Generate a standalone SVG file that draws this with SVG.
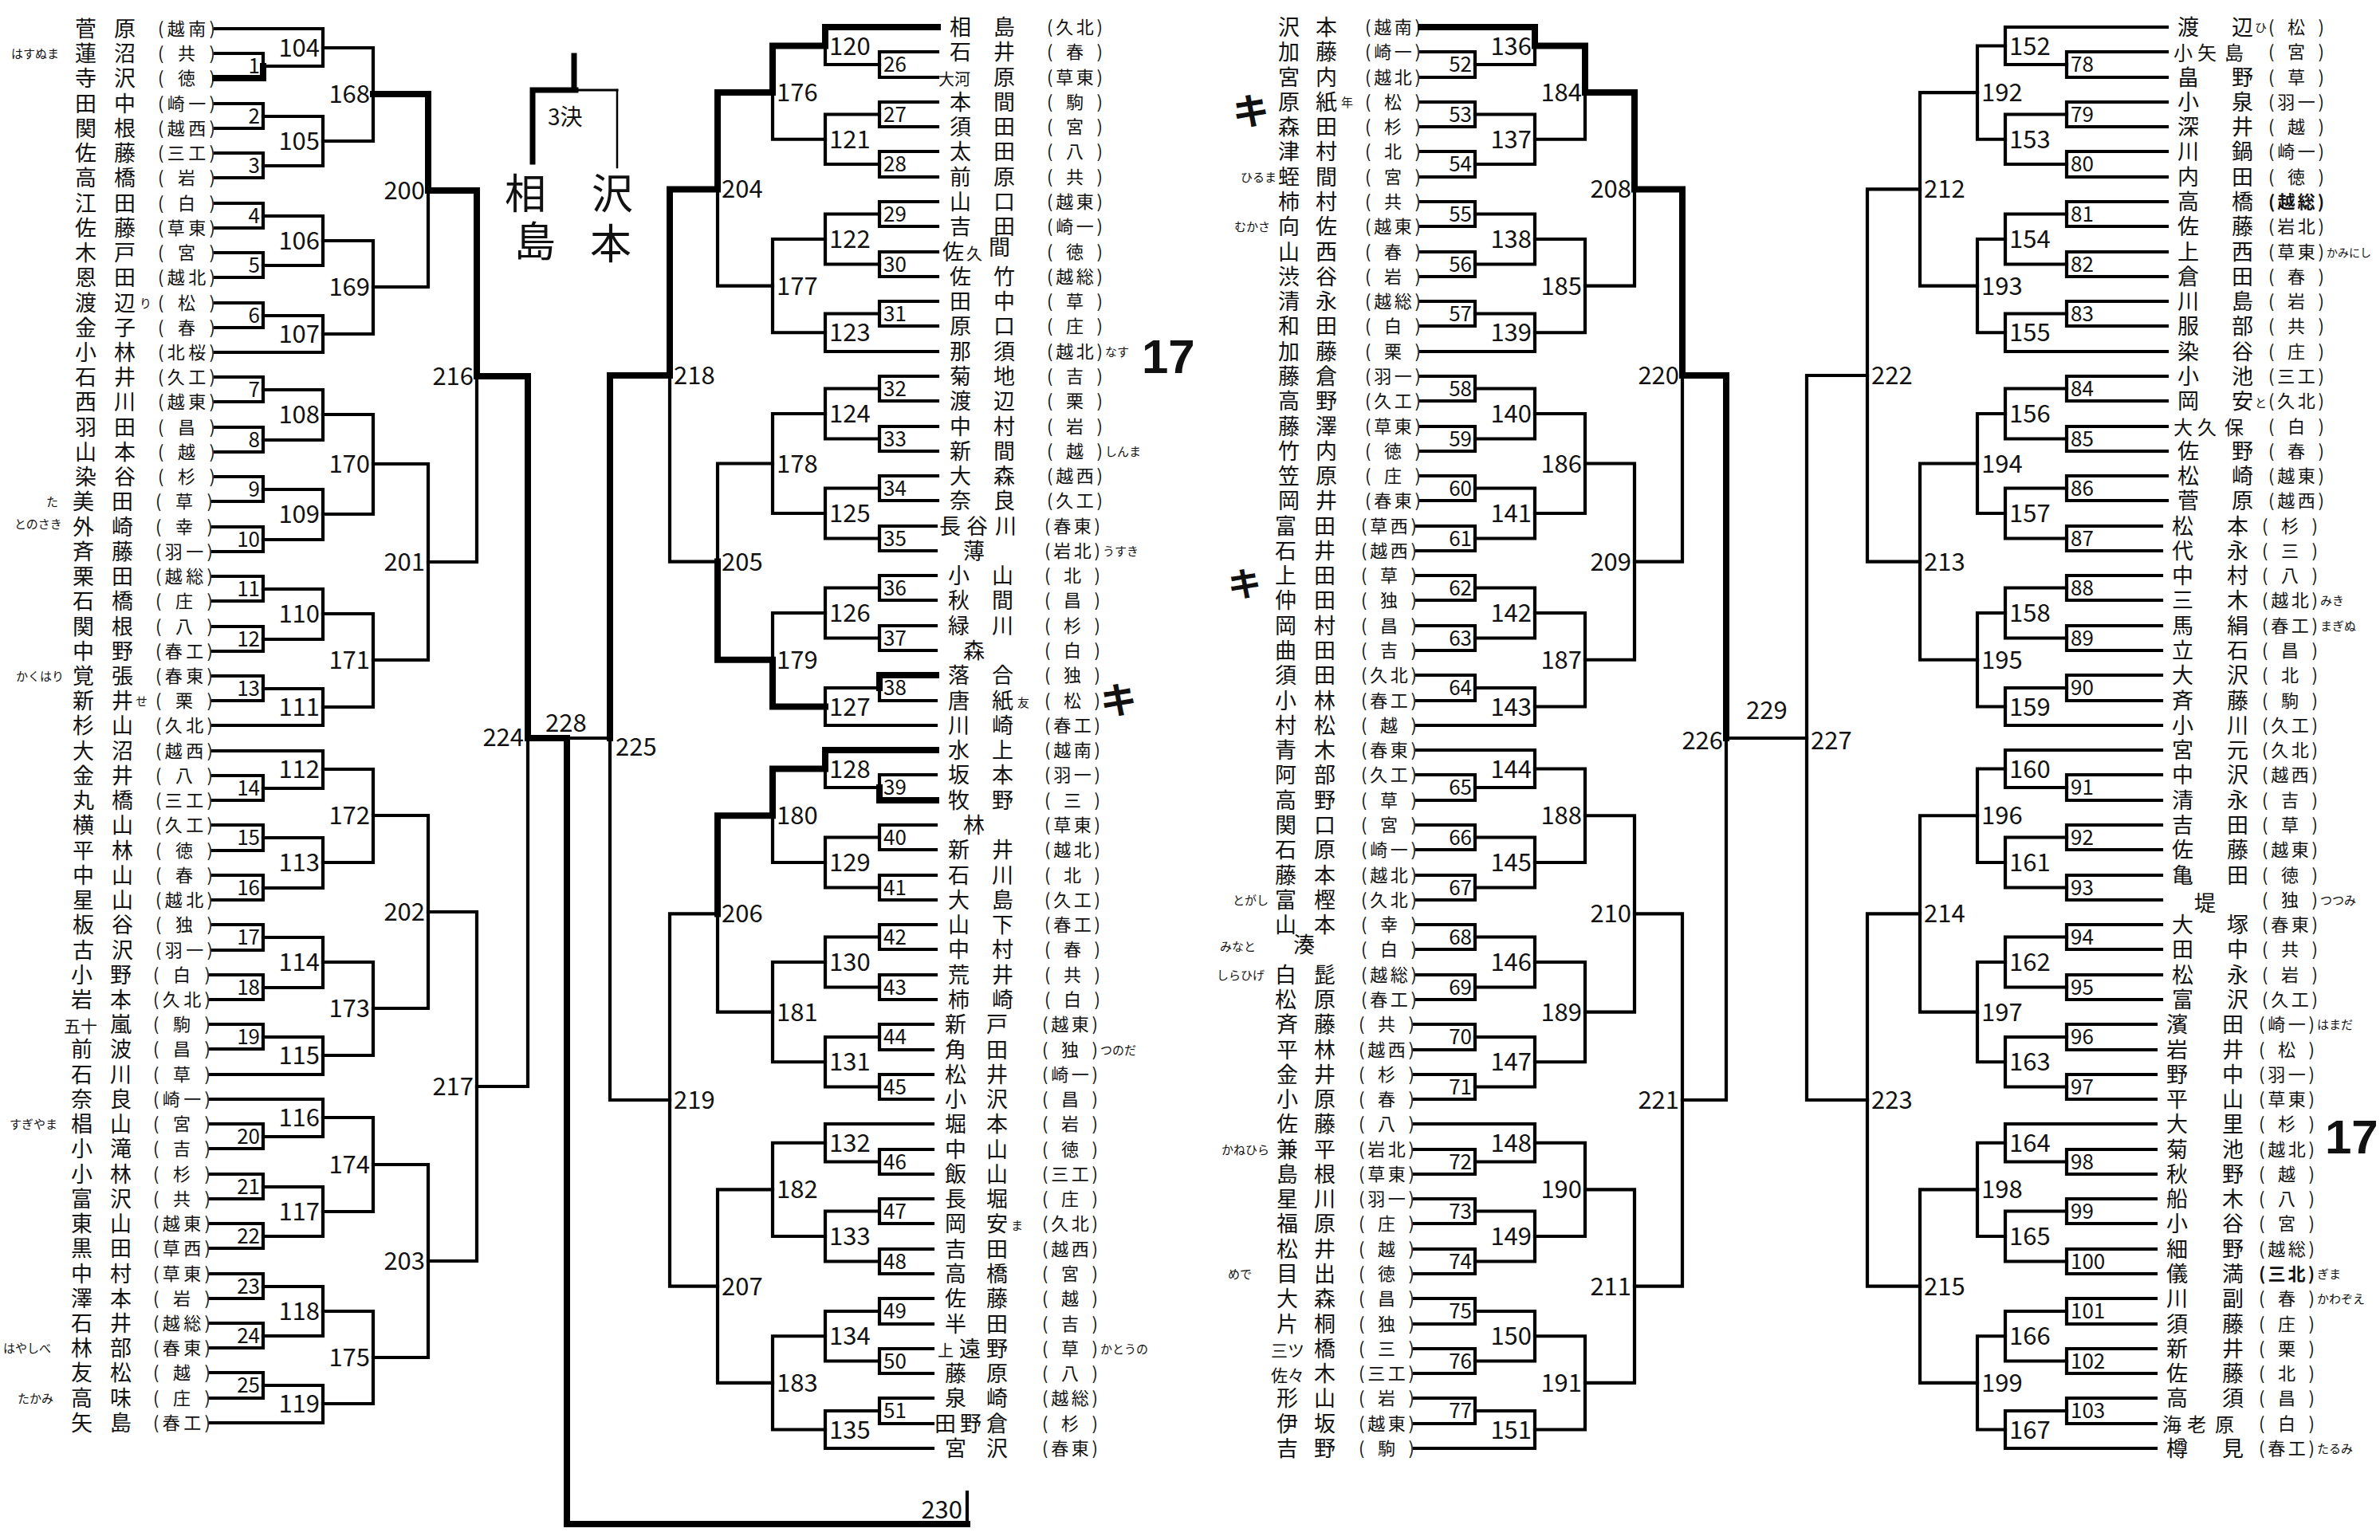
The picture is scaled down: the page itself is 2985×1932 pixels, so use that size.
<svg xmlns="http://www.w3.org/2000/svg" width="2985" height="1932" viewBox="0 0 2985 1932">
<style>
text{font-family:"Noto Sans CJK JP","Noto Sans CJK SC",sans-serif;fill:#111}
.n{font-size:27px}
.s{font-size:22px;text-anchor:middle}
.f{font-size:15px}
.m{font-family:"Liberation Sans",Arial,sans-serif;font-size:31px}
.m1{font-family:"Liberation Sans",Arial,sans-serif;font-size:26px}
.e{text-anchor:end}
.l path{fill:none;stroke:#000;stroke-width:4.2;stroke-linecap:square}
.w path{stroke-width:8}
.b{font-family:"Liberation Sans",Arial,sans-serif;font-weight:bold}
.k{font-weight:bold}
</style>
<rect width="2985" height="1932" fill="#fff"/>
<g id="connectors" class="l">
<path d="M270 67H330V98H270M270 130H330V161H270M270 192H330V223H270M270 255H330V286H270M270 317H330V348H270M270 380H330V411H270M270 473H330V504H270M270 536H330V567H270M270 598H330V629H267M267 661H330V692H267M267 723H330V754H267M267 786H330V817H267M267 848H330V879H267M267 973H330V1004H267M267 1035H330V1067H267M267 1098H330V1129H267M267 1160H330V1192H267M264 1223H330V1254H264M264 1285H330V1316H264M264 1410H330V1441H264M264 1473H330V1504H264M264 1535H330V1566H264M264 1598H330V1629H264M264 1660H330V1691H264M264 1722H330V1754H264"/>
<path d="M270 36H405V83H330M330 146H405V208H330M330 271H405V333H330M330 396H405V442H270M330 489H405V552H330M330 614H405V677H330M330 739H405V802H330M330 864H405V910H267M267 942H405V989H330M330 1051H405V1114H330M330 1176H405V1239H330M330 1301H405V1348H264M264 1379H405V1426H330M330 1489H405V1551H330M330 1614H405V1676H330M330 1738H405V1785H264"/>
<path d="M405 60H468V177H405M405 302H468V419H405M405 520H468V645H405M405 770H468V887H405M405 965H468V1082H405M405 1207H468V1324H405M405 1402H468V1520H405M405 1645H468V1761H405"/>
<path d="M468 118H537V360H468M468 582H537V828H468M468 1023H537V1265H468M468 1461H537V1703H468"/>
<path d="M537 239H598V705H537M537 1144H598V1582H537"/>
<path d="M598 472H662V1363H598"/>
<path d="M662 926H765M1213 1872V1914"/>
<path d="M1176 65H1103V97H1176M1176 128H1103V159H1176M1176 190H1103V222H1176M1176 253H1103V284H1176M1176 316H1103V347H1176M1176 378H1103V409H1176M1176 472H1103V503H1176M1176 535H1103V566H1176M1176 597H1103V628H1176M1174 660H1103V691H1174M1174 722H1103V753H1174M1174 785H1103V816H1174M1174 847H1103V879H1174M1174 972H1103V1004H1174M1174 1035H1103V1066H1174M1174 1098H1103V1129H1174M1174 1160H1103V1191H1174M1174 1223H1103V1254H1174M1170 1285H1103V1317H1170M1170 1348H1103V1379H1170M1170 1442H1103V1473H1170M1170 1504H1103V1535H1170M1170 1567H1103V1598H1170M1170 1629H1103V1661H1170M1170 1692H1103V1723H1170M1170 1754H1103V1786H1170"/>
<path d="M1176 34H1035V81H1103M1103 143.5H1035V206H1103M1103 268.5H1035V331.5H1103M1103 393.5H1035V441H1176M1103 487.5H1035V550.5H1103M1103 612.5H1035V675.5H1103M1103 737.5H1035V800.5H1103M1103 863H1035V910H1174M1174 941H1035V988H1103M1103 1050.5H1035V1113.5H1103M1103 1175.5H1035V1238.5H1103M1103 1301H1035V1363.5H1103M1170 1410H1035V1457.5H1103M1103 1519.5H1035V1582.5H1103M1103 1645H1035V1707.5H1103M1103 1770H1035V1817H1170"/>
<path d="M1035 57.5H969V174.75H1035M1035 300H969V417.25H1035M1035 519H969V644H1035M1035 769H969V886.5H1035M1035 964.5H969V1082H1035M1035 1207H969V1332.25H1035M1035 1433.75H969V1551H1035M1035 1676.25H969V1793.5H1035"/>
<path d="M969 116.1H900V358.6H969M969 581.5H900V827.75H969M969 1023.25H900V1269.6H969M969 1492.4H900V1734.9H969"/>
<path d="M900 237.4H840V704.6H900M900 1146.4H840V1613.7H900"/>
<path d="M840 471H765V1380H840"/>
<path d="M1782 65H1850V97H1782M1782 128H1850V159H1782M1782 190H1850V222H1782M1782 253H1850V284H1782M1782 316H1850V347H1782M1782 378H1850V409H1782M1782 472H1850V503H1782M1782 535H1850V566H1782M1782 597H1850V628H1782M1777 660H1850V691H1777M1777 722H1850V753H1777M1777 785H1850V816H1777M1777 847H1850V879H1777M1777 972H1850V1004H1777M1777 1035H1850V1066H1777M1777 1098H1850V1129H1777M1777 1160H1850V1191H1777M1777 1223H1850V1254H1777M1774 1285H1850V1317H1774M1774 1348H1850V1379H1774M1774 1442H1850V1473H1774M1774 1504H1850V1535H1774M1774 1567H1850V1598H1774M1774 1629H1850V1661H1774M1774 1692H1850V1723H1774M1774 1754H1850V1786H1774"/>
<path d="M1782 34H1925V81H1850M1850 143.5H1925V206H1850M1850 268.5H1925V331.5H1850M1850 393.5H1925V441H1782M1850 487.5H1925V550.5H1850M1850 612.5H1925V675.5H1850M1850 737.5H1925V800.5H1850M1850 863H1925V910H1777M1777 941H1925V988H1850M1850 1050.5H1925V1113.5H1850M1850 1175.5H1925V1238.5H1850M1850 1301H1925V1363.5H1850M1774 1410H1925V1457.5H1850M1850 1519.5H1925V1582.5H1850M1850 1645H1925V1707.5H1850M1850 1770H1925V1817H1774"/>
<path d="M1925 57.5H1988V174.75H1925M1925 300H1988V417.25H1925M1925 519H1988V644H1925M1925 769H1988V886.5H1925M1925 964.5H1988V1082H1925M1925 1207H1988V1332.25H1925M1925 1433.75H1988V1551H1925M1925 1676.25H1988V1793.5H1925"/>
<path d="M1988 116.1H2050V358.6H1988M1988 581.5H2050V827.75H1988M1988 1023.25H2050V1269.6H1988M1988 1492.4H2050V1734.9H1988"/>
<path d="M2050 237.4H2110V704.6H2050M2050 1146.4H2110V1613.7H2050"/>
<path d="M2110 471H2165V1380H2110"/>
<path d="M2165 926H2266"/>
<path d="M2718 65H2592V97H2718M2718 128H2592V159H2718M2718 190H2592V222H2718M2718 253H2592V284H2718M2718 316H2592V347H2718M2718 378H2592V409H2718M2718 472H2592V503H2718M2718 535H2592V566H2718M2718 597H2592V628H2718M2711 660H2592V691H2711M2711 722H2592V753H2711M2711 785H2592V816H2711M2711 847H2592V879H2711M2711 972H2592V1004H2711M2711 1035H2592V1066H2711M2711 1098H2592V1129H2711M2711 1160H2592V1191H2711M2711 1223H2592V1254H2711M2704 1285H2592V1317H2704M2704 1348H2592V1379H2704M2704 1442H2592V1473H2704M2704 1504H2592V1535H2704M2704 1567H2592V1598H2704M2704 1629H2592V1661H2704M2704 1692H2592V1723H2704M2704 1754H2592V1786H2704"/>
<path d="M2718 34H2515V81H2592M2592 143.5H2515V206H2592M2592 268.5H2515V331.5H2592M2592 393.5H2515V441H2718M2592 487.5H2515V550.5H2592M2592 612.5H2515V675.5H2592M2592 737.5H2515V800.5H2592M2592 863H2515V910H2711M2711 941H2515V988H2592M2592 1050.5H2515V1113.5H2592M2592 1175.5H2515V1238.5H2592M2592 1301H2515V1363.5H2592M2704 1410H2515V1457.5H2592M2592 1519.5H2515V1582.5H2592M2592 1645H2515V1707.5H2592M2592 1770H2515V1817H2704"/>
<path d="M2515 57.5H2480V174.75H2515M2515 300H2480V417.25H2515M2515 519H2480V644H2515M2515 769H2480V886.5H2515M2515 964.5H2480V1082H2515M2515 1207H2480V1332.25H2515M2515 1433.75H2480V1551H2515M2515 1676.25H2480V1793.5H2515"/>
<path d="M2480 116.1H2408V358.6H2480M2480 581.5H2408V827.75H2480M2480 1023.25H2408V1269.6H2480M2480 1492.4H2408V1734.9H2480"/>
<path d="M2408 237.4H2342V704.6H2408M2408 1146.4H2342V1613.7H2408"/>
<path d="M2342 471H2266V1380H2342"/>
<path d="M774 113V210" style="stroke-width:2.5"/>
</g>
<g id="winner-lines" class="l w">
<path d="M598 472H662V926M662 926H711V1912H1213M537 239H598V472M468 118H537V239M270 98H330V83"/>
<path d="M840 471H765V926M900 237.4H840V471M969 116.1H900V237.4M1035 57.5H969V116.1M1176 34H1035V57.5"/>
<path d="M1035 964.5H969V1023.25M969 1023.25H900V1146.4M1035 886.5H969V827.75M969 827.75H900V704.6M1174 941H1035V964.5M1174 847H1103V863M1174 1004H1103V988"/>
<path d="M2110 471H2165V926M2050 237.4H2110V471M1988 116.1H2050V237.4M1925 57.5H1988V116.1M1782 34H1925V57.5"/>
<path d="M720 70V113M668 113H722M668 113V203" style="stroke-width:7"/>
<path d="M722 113H774" style="stroke-width:3"/>
</g>
<g id="third-place">
<text x="687" y="157" style="font-size:28px">3決</text>
<text x="633" y="262" style="font-size:52px">相</text>
<text x="645" y="322" style="font-size:52px">島</text>
<text x="742" y="262" style="font-size:52px">沢</text>
<text x="740" y="325" style="font-size:52px">本</text>
</g>
<g id="left-players">
<g id="L01" transform="translate(0 36)"><text class="n" x="94 143" y="10">菅原</text><text class="s" x="234" y="8" textLength="72" lengthAdjust="spacing">(越南)</text></g>
<g id="L02" transform="translate(0 67)"><text class="n" x="94 143" y="10">蓮沼</text><text class="s" x="234" y="8" textLength="72" lengthAdjust="spacing">(共)</text><text class="f" x="14" y="6">はすぬま</text></g>
<g id="L03" transform="translate(0 98)"><text class="n" x="94 143" y="10">寺沢</text><text class="s" x="234" y="8" textLength="72" lengthAdjust="spacing">(徳)</text></g>
<g id="L04" transform="translate(0 130)"><text class="n" x="94 143" y="10">田中</text><text class="s" x="234" y="8" textLength="72" lengthAdjust="spacing">(崎一)</text></g>
<g id="L05" transform="translate(0 161)"><text class="n" x="94 143" y="10">関根</text><text class="s" x="234" y="8" textLength="72" lengthAdjust="spacing">(越西)</text></g>
<g id="L06" transform="translate(0 192)"><text class="n" x="94 143" y="10">佐藤</text><text class="s" x="234" y="8" textLength="72" lengthAdjust="spacing">(三工)</text></g>
<g id="L07" transform="translate(0 223)"><text class="n" x="94 143" y="10">高橋</text><text class="s" x="234" y="8" textLength="72" lengthAdjust="spacing">(岩)</text></g>
<g id="L08" transform="translate(0 255)"><text class="n" x="94 143" y="10">江田</text><text class="s" x="234" y="8" textLength="72" lengthAdjust="spacing">(白)</text></g>
<g id="L09" transform="translate(0 286)"><text class="n" x="94 143" y="10">佐藤</text><text class="s" x="234" y="8" textLength="72" lengthAdjust="spacing">(草東)</text></g>
<g id="L10" transform="translate(0 317)"><text class="n" x="94 143" y="10">木戸</text><text class="s" x="234" y="8" textLength="72" lengthAdjust="spacing">(宮)</text></g>
<g id="L11" transform="translate(0 348)"><text class="n" x="94 143" y="10">恩田</text><text class="s" x="234" y="8" textLength="72" lengthAdjust="spacing">(越北)</text></g>
<g id="L12" transform="translate(0 380)"><text class="n" x="94 143" y="10">渡辺</text><text class="s" x="234" y="8" textLength="72" lengthAdjust="spacing">(松)</text><text class="f" x="175" y="6">り</text></g>
<g id="L13" transform="translate(0 411)"><text class="n" x="94 143" y="10">金子</text><text class="s" x="234" y="8" textLength="72" lengthAdjust="spacing">(春)</text></g>
<g id="L14" transform="translate(0 442)"><text class="n" x="94 143" y="10">小林</text><text class="s" x="234" y="8" textLength="72" lengthAdjust="spacing">(北桜)</text></g>
<g id="L15" transform="translate(0 473)"><text class="n" x="94 143" y="10">石井</text><text class="s" x="234" y="8" textLength="72" lengthAdjust="spacing">(久工)</text></g>
<g id="L16" transform="translate(0 504)"><text class="n" x="94 143" y="10">西川</text><text class="s" x="234" y="8" textLength="72" lengthAdjust="spacing">(越東)</text></g>
<g id="L17" transform="translate(0 536)"><text class="n" x="94 143" y="10">羽田</text><text class="s" x="234" y="8" textLength="72" lengthAdjust="spacing">(昌)</text></g>
<g id="L18" transform="translate(0 567)"><text class="n" x="94 143" y="10">山本</text><text class="s" x="234" y="8" textLength="72" lengthAdjust="spacing">(越)</text></g>
<g id="L19" transform="translate(0 598)"><text class="n" x="94 143" y="10">染谷</text><text class="s" x="234" y="8" textLength="72" lengthAdjust="spacing">(杉)</text></g>
<g id="L20" transform="translate(0 629)"><text class="n" x="91 140" y="10">美田</text><text class="s" x="231" y="8" textLength="72" lengthAdjust="spacing">(草)</text><text class="f" x="58" y="6">た</text></g>
<g id="L21" transform="translate(0 661)"><text class="n" x="91 140" y="10">外崎</text><text class="s" x="231" y="8" textLength="72" lengthAdjust="spacing">(幸)</text><text class="f" x="18" y="2">とのさき</text></g>
<g id="L22" transform="translate(0 692)"><text class="n" x="91 140" y="10">斉藤</text><text class="s" x="231" y="8" textLength="72" lengthAdjust="spacing">(羽一)</text></g>
<g id="L23" transform="translate(0 723)"><text class="n" x="91 140" y="10">栗田</text><text class="s" x="231" y="8" textLength="72" lengthAdjust="spacing">(越総)</text></g>
<g id="L24" transform="translate(0 754)"><text class="n" x="91 140" y="10">石橋</text><text class="s" x="231" y="8" textLength="72" lengthAdjust="spacing">(庄)</text></g>
<g id="L25" transform="translate(0 786)"><text class="n" x="91 140" y="10">関根</text><text class="s" x="231" y="8" textLength="72" lengthAdjust="spacing">(八)</text></g>
<g id="L26" transform="translate(0 817)"><text class="n" x="91 140" y="10">中野</text><text class="s" x="231" y="8" textLength="72" lengthAdjust="spacing">(春工)</text></g>
<g id="L27" transform="translate(0 848)"><text class="n" x="91 140" y="10">覚張</text><text class="s" x="231" y="8" textLength="72" lengthAdjust="spacing">(春東)</text><text class="f" x="20" y="6">かくはり</text></g>
<g id="L28" transform="translate(0 879)"><text class="n" x="91 140" y="10">新井</text><text class="s" x="231" y="8" textLength="72" lengthAdjust="spacing">(栗)</text><text class="f" x="170" y="6">せ</text></g>
<g id="L29" transform="translate(0 910)"><text class="n" x="91 140" y="10">杉山</text><text class="s" x="231" y="8" textLength="72" lengthAdjust="spacing">(久北)</text></g>
<g id="L30" transform="translate(0 942)"><text class="n" x="91 140" y="10">大沼</text><text class="s" x="231" y="8" textLength="72" lengthAdjust="spacing">(越西)</text></g>
<g id="L31" transform="translate(0 973)"><text class="n" x="91 140" y="10">金井</text><text class="s" x="231" y="8" textLength="72" lengthAdjust="spacing">(八)</text></g>
<g id="L32" transform="translate(0 1004)"><text class="n" x="91 140" y="10">丸橋</text><text class="s" x="231" y="8" textLength="72" lengthAdjust="spacing">(三工)</text></g>
<g id="L33" transform="translate(0 1035)"><text class="n" x="91 140" y="10">横山</text><text class="s" x="231" y="8" textLength="72" lengthAdjust="spacing">(久工)</text></g>
<g id="L34" transform="translate(0 1067)"><text class="n" x="91 140" y="10">平林</text><text class="s" x="231" y="8" textLength="72" lengthAdjust="spacing">(徳)</text></g>
<g id="L35" transform="translate(0 1098)"><text class="n" x="91 140" y="10">中山</text><text class="s" x="231" y="8" textLength="72" lengthAdjust="spacing">(春)</text></g>
<g id="L36" transform="translate(0 1129)"><text class="n" x="91 140" y="10">星山</text><text class="s" x="231" y="8" textLength="72" lengthAdjust="spacing">(越北)</text></g>
<g id="L37" transform="translate(0 1160)"><text class="n" x="91 140" y="10">板谷</text><text class="s" x="231" y="8" textLength="72" lengthAdjust="spacing">(独)</text></g>
<g id="L38" transform="translate(0 1192)"><text class="n" x="91 140" y="10">古沢</text><text class="s" x="231" y="8" textLength="72" lengthAdjust="spacing">(羽一)</text></g>
<g id="L39" transform="translate(0 1223)"><text class="n" x="89 138" y="10">小野</text><text class="s" x="228" y="8" textLength="72" lengthAdjust="spacing">(白)</text></g>
<g id="L40" transform="translate(0 1254)"><text class="n" x="89 138" y="10">岩本</text><text class="s" x="228" y="8" textLength="72" lengthAdjust="spacing">(久北)</text></g>
<g id="L41" transform="translate(0 1285)"><text class="n" y="10"><tspan x="80" style="font-size:21px">五十</tspan><tspan x="138">嵐</tspan></text><text class="s" x="228" y="8" textLength="72" lengthAdjust="spacing">(駒)</text></g>
<g id="L42" transform="translate(0 1316)"><text class="n" x="89 138" y="10">前波</text><text class="s" x="228" y="8" textLength="72" lengthAdjust="spacing">(昌)</text></g>
<g id="L43" transform="translate(0 1348)"><text class="n" x="89 138" y="10">石川</text><text class="s" x="228" y="8" textLength="72" lengthAdjust="spacing">(草)</text></g>
<g id="L44" transform="translate(0 1379)"><text class="n" x="89 138" y="10">奈良</text><text class="s" x="228" y="8" textLength="72" lengthAdjust="spacing">(崎一)</text></g>
<g id="L45" transform="translate(0 1410)"><text class="n" x="89 138" y="10">椙山</text><text class="s" x="228" y="8" textLength="72" lengthAdjust="spacing">(宮)</text><text class="f" x="12" y="6">すぎやま</text></g>
<g id="L46" transform="translate(0 1441)"><text class="n" x="89 138" y="10">小滝</text><text class="s" x="228" y="8" textLength="72" lengthAdjust="spacing">(吉)</text></g>
<g id="L47" transform="translate(0 1473)"><text class="n" x="89 138" y="10">小林</text><text class="s" x="228" y="8" textLength="72" lengthAdjust="spacing">(杉)</text></g>
<g id="L48" transform="translate(0 1504)"><text class="n" x="89 138" y="10">富沢</text><text class="s" x="228" y="8" textLength="72" lengthAdjust="spacing">(共)</text></g>
<g id="L49" transform="translate(0 1535)"><text class="n" x="89 138" y="10">東山</text><text class="s" x="228" y="8" textLength="72" lengthAdjust="spacing">(越東)</text></g>
<g id="L50" transform="translate(0 1566)"><text class="n" x="89 138" y="10">黒田</text><text class="s" x="228" y="8" textLength="72" lengthAdjust="spacing">(草西)</text></g>
<g id="L51" transform="translate(0 1598)"><text class="n" x="89 138" y="10">中村</text><text class="s" x="228" y="8" textLength="72" lengthAdjust="spacing">(草東)</text></g>
<g id="L52" transform="translate(0 1629)"><text class="n" x="89 138" y="10">澤本</text><text class="s" x="228" y="8" textLength="72" lengthAdjust="spacing">(岩)</text></g>
<g id="L53" transform="translate(0 1660)"><text class="n" x="89 138" y="10">石井</text><text class="s" x="228" y="8" textLength="72" lengthAdjust="spacing">(越総)</text></g>
<g id="L54" transform="translate(0 1691)"><text class="n" x="89 138" y="10">林部</text><text class="s" x="228" y="8" textLength="72" lengthAdjust="spacing">(春東)</text><text class="f" x="4" y="6">はやしべ</text></g>
<g id="L55" transform="translate(0 1722)"><text class="n" x="89 138" y="10">友松</text><text class="s" x="228" y="8" textLength="72" lengthAdjust="spacing">(越)</text></g>
<g id="L56" transform="translate(0 1754)"><text class="n" x="89 138" y="10">高味</text><text class="s" x="228" y="8" textLength="72" lengthAdjust="spacing">(庄)</text><text class="f" x="22" y="6">たかみ</text></g>
<g id="L57" transform="translate(0 1785)"><text class="n" x="89 138" y="10">矢島</text><text class="s" x="228" y="8" textLength="72" lengthAdjust="spacing">(春工)</text></g>
</g>
<g id="midleft-players">
<g id="G01" transform="translate(0 34)"><text class="n" x="1191 1246" y="10">相島</text><text class="s" x="1348" y="8" textLength="70" lengthAdjust="spacing">(久北)</text></g>
<g id="G02" transform="translate(0 65)"><text class="n" x="1191 1246" y="10">石井</text><text class="s" x="1348" y="8" textLength="70" lengthAdjust="spacing">(春)</text></g>
<g id="G03" transform="translate(0 97)"><text class="n" y="10"><tspan x="1177" style="font-size:20px">大河</tspan><tspan x="1246">原</tspan></text><text class="s" x="1348" y="8" textLength="70" lengthAdjust="spacing">(草東)</text></g>
<g id="G04" transform="translate(0 128)"><text class="n" x="1191 1246" y="10">本間</text><text class="s" x="1348" y="8" textLength="70" lengthAdjust="spacing">(駒)</text></g>
<g id="G05" transform="translate(0 159)"><text class="n" x="1191 1246" y="10">須田</text><text class="s" x="1348" y="8" textLength="70" lengthAdjust="spacing">(宮)</text></g>
<g id="G06" transform="translate(0 190)"><text class="n" x="1191 1246" y="10">太田</text><text class="s" x="1348" y="8" textLength="70" lengthAdjust="spacing">(八)</text></g>
<g id="G07" transform="translate(0 222)"><text class="n" x="1191 1246" y="10">前原</text><text class="s" x="1348" y="8" textLength="70" lengthAdjust="spacing">(共)</text></g>
<g id="G08" transform="translate(0 253)"><text class="n" x="1191 1246" y="10">山口</text><text class="s" x="1348" y="8" textLength="70" lengthAdjust="spacing">(越東)</text></g>
<g id="G09" transform="translate(0 284)"><text class="n" x="1191 1246" y="10">吉田</text><text class="s" x="1348" y="8" textLength="70" lengthAdjust="spacing">(崎一)</text></g>
<g id="G10" transform="translate(0 316)"><text class="n" y="10"><tspan x="1182">佐</tspan><tspan x="1212" style="font-size:20px">久</tspan><tspan x="1240" dy="-6">間</tspan></text><text class="s" x="1348" y="8" textLength="70" lengthAdjust="spacing">(徳)</text></g>
<g id="G11" transform="translate(0 347)"><text class="n" x="1191 1246" y="10">佐竹</text><text class="s" x="1348" y="8" textLength="70" lengthAdjust="spacing">(越総)</text></g>
<g id="G12" transform="translate(0 378)"><text class="n" x="1191 1246" y="10">田中</text><text class="s" x="1348" y="8" textLength="70" lengthAdjust="spacing">(草)</text></g>
<g id="G13" transform="translate(0 409)"><text class="n" x="1191 1246" y="10">原口</text><text class="s" x="1348" y="8" textLength="70" lengthAdjust="spacing">(庄)</text></g>
<g id="G14" transform="translate(0 441)"><text class="n" x="1191 1246" y="10">那須</text><text class="s" x="1348" y="8" textLength="70" lengthAdjust="spacing">(越北)</text><text class="f" x="1386" y="6">なす</text></g>
<g id="G15" transform="translate(0 472)"><text class="n" x="1191 1246" y="10">菊地</text><text class="s" x="1348" y="8" textLength="70" lengthAdjust="spacing">(吉)</text></g>
<g id="G16" transform="translate(0 503)"><text class="n" x="1191 1246" y="10">渡辺</text><text class="s" x="1348" y="8" textLength="70" lengthAdjust="spacing">(栗)</text></g>
<g id="G17" transform="translate(0 535)"><text class="n" x="1191 1246" y="10">中村</text><text class="s" x="1348" y="8" textLength="70" lengthAdjust="spacing">(岩)</text></g>
<g id="G18" transform="translate(0 566)"><text class="n" x="1191 1246" y="10">新間</text><text class="s" x="1348" y="8" textLength="70" lengthAdjust="spacing">(越)</text><text class="f" x="1386" y="6">しんま</text></g>
<g id="G19" transform="translate(0 597)"><text class="n" x="1191 1246" y="10">大森</text><text class="s" x="1348" y="8" textLength="70" lengthAdjust="spacing">(越西)</text></g>
<g id="G20" transform="translate(0 628)"><text class="n" x="1191 1246" y="10">奈良</text><text class="s" x="1348" y="8" textLength="70" lengthAdjust="spacing">(久工)</text></g>
<g id="G21" transform="translate(0 660)"><text class="n" x="1178 1212 1248" y="10">長谷川</text><text class="s" x="1345" y="8" textLength="70" lengthAdjust="spacing">(春東)</text></g>
<g id="G22" transform="translate(0 691)"><text class="n" x="1208" y="10">薄</text><text class="s" x="1345" y="8" textLength="70" lengthAdjust="spacing">(岩北)</text><text class="f" x="1383" y="6">うすき</text></g>
<g id="G23" transform="translate(0 722)"><text class="n" x="1189 1244" y="10">小山</text><text class="s" x="1345" y="8" textLength="70" lengthAdjust="spacing">(北)</text></g>
<g id="G24" transform="translate(0 753)"><text class="n" x="1189 1244" y="10">秋間</text><text class="s" x="1345" y="8" textLength="70" lengthAdjust="spacing">(昌)</text></g>
<g id="G25" transform="translate(0 785)"><text class="n" x="1189 1244" y="10">緑川</text><text class="s" x="1345" y="8" textLength="70" lengthAdjust="spacing">(杉)</text></g>
<g id="G26" transform="translate(0 816)"><text class="n" x="1208" y="10">森</text><text class="s" x="1345" y="8" textLength="70" lengthAdjust="spacing">(白)</text></g>
<g id="G27" transform="translate(0 847)"><text class="n" x="1189 1244" y="10">落合</text><text class="s" x="1345" y="8" textLength="70" lengthAdjust="spacing">(独)</text></g>
<g id="G28" transform="translate(0 879)"><text class="n" x="1189 1244" y="10">唐紙</text><text class="s" x="1345" y="8" textLength="70" lengthAdjust="spacing">(松)</text><text class="f" x="1276" y="8">友</text></g>
<g id="G29" transform="translate(0 910)"><text class="n" x="1189 1244" y="10">川崎</text><text class="s" x="1345" y="8" textLength="70" lengthAdjust="spacing">(春工)</text></g>
<g id="G30" transform="translate(0 941)"><text class="n" x="1189 1244" y="10">水上</text><text class="s" x="1345" y="8" textLength="70" lengthAdjust="spacing">(越南)</text></g>
<g id="G31" transform="translate(0 972)"><text class="n" x="1189 1244" y="10">坂本</text><text class="s" x="1345" y="8" textLength="70" lengthAdjust="spacing">(羽一)</text></g>
<g id="G32" transform="translate(0 1004)"><text class="n" x="1189 1244" y="10">牧野</text><text class="s" x="1345" y="8" textLength="70" lengthAdjust="spacing">(三)</text></g>
<g id="G33" transform="translate(0 1035)"><text class="n" x="1208" y="10">林</text><text class="s" x="1345" y="8" textLength="70" lengthAdjust="spacing">(草東)</text></g>
<g id="G34" transform="translate(0 1066)"><text class="n" x="1189 1244" y="10">新井</text><text class="s" x="1345" y="8" textLength="70" lengthAdjust="spacing">(越北)</text></g>
<g id="G35" transform="translate(0 1098)"><text class="n" x="1189 1244" y="10">石川</text><text class="s" x="1345" y="8" textLength="70" lengthAdjust="spacing">(北)</text></g>
<g id="G36" transform="translate(0 1129)"><text class="n" x="1189 1244" y="10">大島</text><text class="s" x="1345" y="8" textLength="70" lengthAdjust="spacing">(久工)</text></g>
<g id="G37" transform="translate(0 1160)"><text class="n" x="1189 1244" y="10">山下</text><text class="s" x="1345" y="8" textLength="70" lengthAdjust="spacing">(春工)</text></g>
<g id="G38" transform="translate(0 1191)"><text class="n" x="1189 1244" y="10">中村</text><text class="s" x="1345" y="8" textLength="70" lengthAdjust="spacing">(春)</text></g>
<g id="G39" transform="translate(0 1223)"><text class="n" x="1189 1244" y="10">荒井</text><text class="s" x="1345" y="8" textLength="70" lengthAdjust="spacing">(共)</text></g>
<g id="G40" transform="translate(0 1254)"><text class="n" x="1189 1244" y="10">柿崎</text><text class="s" x="1345" y="8" textLength="70" lengthAdjust="spacing">(白)</text></g>
<g id="G41" transform="translate(0 1285)"><text class="n" x="1185 1237" y="10">新戸</text><text class="s" x="1342" y="8" textLength="70" lengthAdjust="spacing">(越東)</text></g>
<g id="G42" transform="translate(0 1317)"><text class="n" x="1185 1237" y="10">角田</text><text class="s" x="1342" y="8" textLength="70" lengthAdjust="spacing">(独)</text><text class="f" x="1380" y="6">つのだ</text></g>
<g id="G43" transform="translate(0 1348)"><text class="n" x="1185 1237" y="10">松井</text><text class="s" x="1342" y="8" textLength="70" lengthAdjust="spacing">(崎一)</text></g>
<g id="G44" transform="translate(0 1379)"><text class="n" x="1185 1237" y="10">小沢</text><text class="s" x="1342" y="8" textLength="70" lengthAdjust="spacing">(昌)</text></g>
<g id="G45" transform="translate(0 1410)"><text class="n" x="1185 1237" y="10">堀本</text><text class="s" x="1342" y="8" textLength="70" lengthAdjust="spacing">(岩)</text></g>
<g id="G46" transform="translate(0 1442)"><text class="n" x="1185 1237" y="10">中山</text><text class="s" x="1342" y="8" textLength="70" lengthAdjust="spacing">(徳)</text></g>
<g id="G47" transform="translate(0 1473)"><text class="n" x="1185 1237" y="10">飯山</text><text class="s" x="1342" y="8" textLength="70" lengthAdjust="spacing">(三工)</text></g>
<g id="G48" transform="translate(0 1504)"><text class="n" x="1185 1237" y="10">長堀</text><text class="s" x="1342" y="8" textLength="70" lengthAdjust="spacing">(庄)</text></g>
<g id="G49" transform="translate(0 1535)"><text class="n" x="1185 1237" y="10">岡安</text><text class="s" x="1342" y="8" textLength="70" lengthAdjust="spacing">(久北)</text><text class="f" x="1268" y="8">ま</text></g>
<g id="G50" transform="translate(0 1567)"><text class="n" x="1185 1237" y="10">吉田</text><text class="s" x="1342" y="8" textLength="70" lengthAdjust="spacing">(越西)</text></g>
<g id="G51" transform="translate(0 1598)"><text class="n" x="1185 1237" y="10">高橋</text><text class="s" x="1342" y="8" textLength="70" lengthAdjust="spacing">(宮)</text></g>
<g id="G52" transform="translate(0 1629)"><text class="n" x="1185 1237" y="10">佐藤</text><text class="s" x="1342" y="8" textLength="70" lengthAdjust="spacing">(越)</text></g>
<g id="G53" transform="translate(0 1661)"><text class="n" x="1185 1237" y="10">半田</text><text class="s" x="1342" y="8" textLength="70" lengthAdjust="spacing">(吉)</text></g>
<g id="G54" transform="translate(0 1692)"><text class="n" y="10"><tspan x="1176" style="font-size:20px">上</tspan><tspan x="1203">遠</tspan><tspan x="1237">野</tspan></text><text class="s" x="1342" y="8" textLength="70" lengthAdjust="spacing">(草)</text><text class="f" x="1380" y="6">かとうの</text></g>
<g id="G55" transform="translate(0 1723)"><text class="n" x="1185 1237" y="10">藤原</text><text class="s" x="1342" y="8" textLength="70" lengthAdjust="spacing">(八)</text></g>
<g id="G56" transform="translate(0 1754)"><text class="n" x="1185 1237" y="10">泉崎</text><text class="s" x="1342" y="8" textLength="70" lengthAdjust="spacing">(越総)</text></g>
<g id="G57" transform="translate(0 1786)"><text class="n" x="1172 1204 1237" y="10">田野倉</text><text class="s" x="1342" y="8" textLength="70" lengthAdjust="spacing">(杉)</text></g>
<g id="G58" transform="translate(0 1817)"><text class="n" x="1185 1237" y="10">宮沢</text><text class="s" x="1342" y="8" textLength="70" lengthAdjust="spacing">(春東)</text></g>
</g>
<g id="midright-players">
<g id="H01" transform="translate(0 34)"><text class="n" x="1603 1650" y="10">沢本</text><text class="s" x="1747" y="8" textLength="70" lengthAdjust="spacing">(越南)</text></g>
<g id="H02" transform="translate(0 65)"><text class="n" x="1603 1650" y="10">加藤</text><text class="s" x="1747" y="8" textLength="70" lengthAdjust="spacing">(崎一)</text></g>
<g id="H03" transform="translate(0 97)"><text class="n" x="1603 1650" y="10">宮内</text><text class="s" x="1747" y="8" textLength="70" lengthAdjust="spacing">(越北)</text></g>
<g id="H04" transform="translate(0 128)"><text class="n" x="1603 1650" y="10">原紙</text><text class="s" x="1747" y="8" textLength="70" lengthAdjust="spacing">(松)</text><text class="f" x="1682" y="6">年</text></g>
<g id="H05" transform="translate(0 159)"><text class="n" x="1603 1650" y="10">森田</text><text class="s" x="1747" y="8" textLength="70" lengthAdjust="spacing">(杉)</text></g>
<g id="H06" transform="translate(0 190)"><text class="n" x="1603 1650" y="10">津村</text><text class="s" x="1747" y="8" textLength="70" lengthAdjust="spacing">(北)</text></g>
<g id="H07" transform="translate(0 222)"><text class="n" x="1603 1650" y="10">蛭間</text><text class="s" x="1747" y="8" textLength="70" lengthAdjust="spacing">(宮)</text><text class="f" x="1556" y="6">ひるま</text></g>
<g id="H08" transform="translate(0 253)"><text class="n" x="1603 1650" y="10">柿村</text><text class="s" x="1747" y="8" textLength="70" lengthAdjust="spacing">(共)</text></g>
<g id="H09" transform="translate(0 284)"><text class="n" x="1603 1650" y="10">向佐</text><text class="s" x="1747" y="8" textLength="70" lengthAdjust="spacing">(越東)</text><text class="f" x="1548" y="6">むかさ</text></g>
<g id="H10" transform="translate(0 316)"><text class="n" x="1603 1650" y="10">山西</text><text class="s" x="1747" y="8" textLength="70" lengthAdjust="spacing">(春)</text></g>
<g id="H11" transform="translate(0 347)"><text class="n" x="1603 1650" y="10">渋谷</text><text class="s" x="1747" y="8" textLength="70" lengthAdjust="spacing">(岩)</text></g>
<g id="H12" transform="translate(0 378)"><text class="n" x="1603 1650" y="10">清永</text><text class="s" x="1747" y="8" textLength="70" lengthAdjust="spacing">(越総)</text></g>
<g id="H13" transform="translate(0 409)"><text class="n" x="1603 1650" y="10">和田</text><text class="s" x="1747" y="8" textLength="70" lengthAdjust="spacing">(白)</text></g>
<g id="H14" transform="translate(0 441)"><text class="n" x="1603 1650" y="10">加藤</text><text class="s" x="1747" y="8" textLength="70" lengthAdjust="spacing">(栗)</text></g>
<g id="H15" transform="translate(0 472)"><text class="n" x="1603 1650" y="10">藤倉</text><text class="s" x="1747" y="8" textLength="70" lengthAdjust="spacing">(羽一)</text></g>
<g id="H16" transform="translate(0 503)"><text class="n" x="1603 1650" y="10">高野</text><text class="s" x="1747" y="8" textLength="70" lengthAdjust="spacing">(久工)</text></g>
<g id="H17" transform="translate(0 535)"><text class="n" x="1603 1650" y="10">藤澤</text><text class="s" x="1747" y="8" textLength="70" lengthAdjust="spacing">(草東)</text></g>
<g id="H18" transform="translate(0 566)"><text class="n" x="1603 1650" y="10">竹内</text><text class="s" x="1747" y="8" textLength="70" lengthAdjust="spacing">(徳)</text></g>
<g id="H19" transform="translate(0 597)"><text class="n" x="1603 1650" y="10">笠原</text><text class="s" x="1747" y="8" textLength="70" lengthAdjust="spacing">(庄)</text></g>
<g id="H20" transform="translate(0 628)"><text class="n" x="1603 1650" y="10">岡井</text><text class="s" x="1747" y="8" textLength="70" lengthAdjust="spacing">(春東)</text></g>
<g id="H21" transform="translate(0 660)"><text class="n" x="1599 1648" y="10">富田</text><text class="s" x="1742" y="8" textLength="70" lengthAdjust="spacing">(草西)</text></g>
<g id="H22" transform="translate(0 691)"><text class="n" x="1599 1648" y="10">石井</text><text class="s" x="1742" y="8" textLength="70" lengthAdjust="spacing">(越西)</text></g>
<g id="H23" transform="translate(0 722)"><text class="n" x="1599 1648" y="10">上田</text><text class="s" x="1742" y="8" textLength="70" lengthAdjust="spacing">(草)</text></g>
<g id="H24" transform="translate(0 753)"><text class="n" x="1599 1648" y="10">仲田</text><text class="s" x="1742" y="8" textLength="70" lengthAdjust="spacing">(独)</text></g>
<g id="H25" transform="translate(0 785)"><text class="n" x="1599 1648" y="10">岡村</text><text class="s" x="1742" y="8" textLength="70" lengthAdjust="spacing">(昌)</text></g>
<g id="H26" transform="translate(0 816)"><text class="n" x="1599 1648" y="10">曲田</text><text class="s" x="1742" y="8" textLength="70" lengthAdjust="spacing">(吉)</text></g>
<g id="H27" transform="translate(0 847)"><text class="n" x="1599 1648" y="10">須田</text><text class="s" x="1742" y="8" textLength="70" lengthAdjust="spacing">(久北)</text></g>
<g id="H28" transform="translate(0 879)"><text class="n" x="1599 1648" y="10">小林</text><text class="s" x="1742" y="8" textLength="70" lengthAdjust="spacing">(春工)</text></g>
<g id="H29" transform="translate(0 910)"><text class="n" x="1599 1648" y="10">村松</text><text class="s" x="1742" y="8" textLength="70" lengthAdjust="spacing">(越)</text></g>
<g id="H30" transform="translate(0 941)"><text class="n" x="1599 1648" y="10">青木</text><text class="s" x="1742" y="8" textLength="70" lengthAdjust="spacing">(春東)</text></g>
<g id="H31" transform="translate(0 972)"><text class="n" x="1599 1648" y="10">阿部</text><text class="s" x="1742" y="8" textLength="70" lengthAdjust="spacing">(久工)</text></g>
<g id="H32" transform="translate(0 1004)"><text class="n" x="1599 1648" y="10">高野</text><text class="s" x="1742" y="8" textLength="70" lengthAdjust="spacing">(草)</text></g>
<g id="H33" transform="translate(0 1035)"><text class="n" x="1599 1648" y="10">関口</text><text class="s" x="1742" y="8" textLength="70" lengthAdjust="spacing">(宮)</text></g>
<g id="H34" transform="translate(0 1066)"><text class="n" x="1599 1648" y="10">石原</text><text class="s" x="1742" y="8" textLength="70" lengthAdjust="spacing">(崎一)</text></g>
<g id="H35" transform="translate(0 1098)"><text class="n" x="1599 1648" y="10">藤本</text><text class="s" x="1742" y="8" textLength="70" lengthAdjust="spacing">(越北)</text></g>
<g id="H36" transform="translate(0 1129)"><text class="n" x="1599 1648" y="10">富樫</text><text class="s" x="1742" y="8" textLength="70" lengthAdjust="spacing">(久北)</text><text class="f" x="1546" y="6">とがし</text></g>
<g id="H37" transform="translate(0 1160)"><text class="n" x="1599 1648" y="10">山本</text><text class="s" x="1742" y="8" textLength="70" lengthAdjust="spacing">(幸)</text></g>
<g id="H38" transform="translate(0 1191)"><text class="n" x="1622" y="4">湊</text><text class="s" x="1742" y="8" textLength="70" lengthAdjust="spacing">(白)</text><text class="f" x="1530" y="2">みなと</text></g>
<g id="H39" transform="translate(0 1223)"><text class="n" x="1599 1648" y="10">白髭</text><text class="s" x="1742" y="8" textLength="70" lengthAdjust="spacing">(越総)</text><text class="f" x="1526" y="6">しらひげ</text></g>
<g id="H40" transform="translate(0 1254)"><text class="n" x="1599 1648" y="10">松原</text><text class="s" x="1742" y="8" textLength="70" lengthAdjust="spacing">(春工)</text></g>
<g id="H41" transform="translate(0 1285)"><text class="n" x="1601 1648" y="10">斉藤</text><text class="s" x="1739" y="8" textLength="70" lengthAdjust="spacing">(共)</text></g>
<g id="H42" transform="translate(0 1317)"><text class="n" x="1601 1648" y="10">平林</text><text class="s" x="1739" y="8" textLength="70" lengthAdjust="spacing">(越西)</text></g>
<g id="H43" transform="translate(0 1348)"><text class="n" x="1601 1648" y="10">金井</text><text class="s" x="1739" y="8" textLength="70" lengthAdjust="spacing">(杉)</text></g>
<g id="H44" transform="translate(0 1379)"><text class="n" x="1601 1648" y="10">小原</text><text class="s" x="1739" y="8" textLength="70" lengthAdjust="spacing">(春)</text></g>
<g id="H45" transform="translate(0 1410)"><text class="n" x="1601 1648" y="10">佐藤</text><text class="s" x="1739" y="8" textLength="70" lengthAdjust="spacing">(八)</text></g>
<g id="H46" transform="translate(0 1442)"><text class="n" x="1601 1648" y="10">兼平</text><text class="s" x="1739" y="8" textLength="70" lengthAdjust="spacing">(岩北)</text><text class="f" x="1532" y="6">かねひら</text></g>
<g id="H47" transform="translate(0 1473)"><text class="n" x="1601 1648" y="10">島根</text><text class="s" x="1739" y="8" textLength="70" lengthAdjust="spacing">(草東)</text></g>
<g id="H48" transform="translate(0 1504)"><text class="n" x="1601 1648" y="10">星川</text><text class="s" x="1739" y="8" textLength="70" lengthAdjust="spacing">(羽一)</text></g>
<g id="H49" transform="translate(0 1535)"><text class="n" x="1601 1648" y="10">福原</text><text class="s" x="1739" y="8" textLength="70" lengthAdjust="spacing">(庄)</text></g>
<g id="H50" transform="translate(0 1567)"><text class="n" x="1601 1648" y="10">松井</text><text class="s" x="1739" y="8" textLength="70" lengthAdjust="spacing">(越)</text></g>
<g id="H51" transform="translate(0 1598)"><text class="n" x="1601 1648" y="10">目出</text><text class="s" x="1739" y="8" textLength="70" lengthAdjust="spacing">(徳)</text><text class="f" x="1540" y="6">めで</text></g>
<g id="H52" transform="translate(0 1629)"><text class="n" x="1601 1648" y="10">大森</text><text class="s" x="1739" y="8" textLength="70" lengthAdjust="spacing">(昌)</text></g>
<g id="H53" transform="translate(0 1661)"><text class="n" x="1601 1648" y="10">片桐</text><text class="s" x="1739" y="8" textLength="70" lengthAdjust="spacing">(独)</text></g>
<g id="H54" transform="translate(0 1692)"><text class="n" y="10"><tspan x="1594" style="font-size:21px">三ツ</tspan><tspan x="1648">橋</tspan></text><text class="s" x="1739" y="8" textLength="70" lengthAdjust="spacing">(三)</text></g>
<g id="H55" transform="translate(0 1723)"><text class="n" y="10"><tspan x="1594" style="font-size:21px">佐々</tspan><tspan x="1648">木</tspan></text><text class="s" x="1739" y="8" textLength="70" lengthAdjust="spacing">(三工)</text></g>
<g id="H56" transform="translate(0 1754)"><text class="n" x="1601 1648" y="10">形山</text><text class="s" x="1739" y="8" textLength="70" lengthAdjust="spacing">(岩)</text></g>
<g id="H57" transform="translate(0 1786)"><text class="n" x="1601 1648" y="10">伊坂</text><text class="s" x="1739" y="8" textLength="70" lengthAdjust="spacing">(越東)</text></g>
<g id="H58" transform="translate(0 1817)"><text class="n" x="1601 1648" y="10">吉野</text><text class="s" x="1739" y="8" textLength="70" lengthAdjust="spacing">(駒)</text></g>
</g>
<g id="right-players">
<g id="K01" transform="translate(0 34)"><text class="n" x="2731 2799" y="10">渡辺</text><text class="s" x="2880" y="8" textLength="70" lengthAdjust="spacing">(松)</text><text class="f" x="2828" y="6">ひ</text></g>
<g id="K02" transform="translate(0 65)"><text class="n" x="2726 2756 2790" y="10" style="font-size:24px">小矢島</text><text class="s" x="2880" y="8" textLength="70" lengthAdjust="spacing">(宮)</text></g>
<g id="K03" transform="translate(0 97)"><text class="n" x="2731 2799" y="10">畠野</text><text class="s" x="2880" y="8" textLength="70" lengthAdjust="spacing">(草)</text></g>
<g id="K04" transform="translate(0 128)"><text class="n" x="2731 2799" y="10">小泉</text><text class="s" x="2880" y="8" textLength="70" lengthAdjust="spacing">(羽一)</text></g>
<g id="K05" transform="translate(0 159)"><text class="n" x="2731 2799" y="10">深井</text><text class="s" x="2880" y="8" textLength="70" lengthAdjust="spacing">(越)</text></g>
<g id="K06" transform="translate(0 190)"><text class="n" x="2731 2799" y="10">川鍋</text><text class="s" x="2880" y="8" textLength="70" lengthAdjust="spacing">(崎一)</text></g>
<g id="K07" transform="translate(0 222)"><text class="n" x="2731 2799" y="10">内田</text><text class="s" x="2880" y="8" textLength="70" lengthAdjust="spacing">(徳)</text></g>
<g id="K08" transform="translate(0 253)"><text class="n" x="2731 2799" y="10">高橋</text><text class="s k" x="2880" y="8" textLength="70" lengthAdjust="spacing">(越総)</text></g>
<g id="K09" transform="translate(0 284)"><text class="n" x="2731 2799" y="10">佐藤</text><text class="s" x="2880" y="8" textLength="70" lengthAdjust="spacing">(岩北)</text></g>
<g id="K10" transform="translate(0 316)"><text class="n" x="2731 2799" y="10">上西</text><text class="s" x="2880" y="8" textLength="70" lengthAdjust="spacing">(草東)</text><text class="f" x="2918" y="6" style="font-size:14px">かみにし</text></g>
<g id="K11" transform="translate(0 347)"><text class="n" x="2731 2799" y="10">倉田</text><text class="s" x="2880" y="8" textLength="70" lengthAdjust="spacing">(春)</text></g>
<g id="K12" transform="translate(0 378)"><text class="n" x="2731 2799" y="10">川島</text><text class="s" x="2880" y="8" textLength="70" lengthAdjust="spacing">(岩)</text></g>
<g id="K13" transform="translate(0 409)"><text class="n" x="2731 2799" y="10">服部</text><text class="s" x="2880" y="8" textLength="70" lengthAdjust="spacing">(共)</text></g>
<g id="K14" transform="translate(0 441)"><text class="n" x="2731 2799" y="10">染谷</text><text class="s" x="2880" y="8" textLength="70" lengthAdjust="spacing">(庄)</text></g>
<g id="K15" transform="translate(0 472)"><text class="n" x="2731 2799" y="10">小池</text><text class="s" x="2880" y="8" textLength="70" lengthAdjust="spacing">(三工)</text></g>
<g id="K16" transform="translate(0 503)"><text class="n" x="2731 2799" y="10">岡安</text><text class="s" x="2880" y="8" textLength="70" lengthAdjust="spacing">(久北)</text><text class="f" x="2828" y="8">と</text></g>
<g id="K17" transform="translate(0 535)"><text class="n" x="2726 2756 2790" y="10" style="font-size:24px">大久保</text><text class="s" x="2880" y="8" textLength="70" lengthAdjust="spacing">(白)</text></g>
<g id="K18" transform="translate(0 566)"><text class="n" x="2731 2799" y="10">佐野</text><text class="s" x="2880" y="8" textLength="70" lengthAdjust="spacing">(春)</text></g>
<g id="K19" transform="translate(0 597)"><text class="n" x="2731 2799" y="10">松崎</text><text class="s" x="2880" y="8" textLength="70" lengthAdjust="spacing">(越東)</text></g>
<g id="K20" transform="translate(0 628)"><text class="n" x="2731 2799" y="10">菅原</text><text class="s" x="2880" y="8" textLength="70" lengthAdjust="spacing">(越西)</text></g>
<g id="K21" transform="translate(0 660)"><text class="n" x="2724 2793" y="10">松本</text><text class="s" x="2872" y="8" textLength="70" lengthAdjust="spacing">(杉)</text></g>
<g id="K22" transform="translate(0 691)"><text class="n" x="2724 2793" y="10">代永</text><text class="s" x="2872" y="8" textLength="70" lengthAdjust="spacing">(三)</text></g>
<g id="K23" transform="translate(0 722)"><text class="n" x="2724 2793" y="10">中村</text><text class="s" x="2872" y="8" textLength="70" lengthAdjust="spacing">(八)</text></g>
<g id="K24" transform="translate(0 753)"><text class="n" x="2724 2793" y="10">三木</text><text class="s" x="2872" y="8" textLength="70" lengthAdjust="spacing">(越北)</text><text class="f" x="2910" y="6">みき</text></g>
<g id="K25" transform="translate(0 785)"><text class="n" x="2724 2793" y="10">馬絹</text><text class="s" x="2872" y="8" textLength="70" lengthAdjust="spacing">(春工)</text><text class="f" x="2910" y="6">まぎぬ</text></g>
<g id="K26" transform="translate(0 816)"><text class="n" x="2724 2793" y="10">立石</text><text class="s" x="2872" y="8" textLength="70" lengthAdjust="spacing">(昌)</text></g>
<g id="K27" transform="translate(0 847)"><text class="n" x="2724 2793" y="10">大沢</text><text class="s" x="2872" y="8" textLength="70" lengthAdjust="spacing">(北)</text></g>
<g id="K28" transform="translate(0 879)"><text class="n" x="2724 2793" y="10">斉藤</text><text class="s" x="2872" y="8" textLength="70" lengthAdjust="spacing">(駒)</text></g>
<g id="K29" transform="translate(0 910)"><text class="n" x="2724 2793" y="10">小川</text><text class="s" x="2872" y="8" textLength="70" lengthAdjust="spacing">(久工)</text></g>
<g id="K30" transform="translate(0 941)"><text class="n" x="2724 2793" y="10">宮元</text><text class="s" x="2872" y="8" textLength="70" lengthAdjust="spacing">(久北)</text></g>
<g id="K31" transform="translate(0 972)"><text class="n" x="2724 2793" y="10">中沢</text><text class="s" x="2872" y="8" textLength="70" lengthAdjust="spacing">(越西)</text></g>
<g id="K32" transform="translate(0 1004)"><text class="n" x="2724 2793" y="10">清永</text><text class="s" x="2872" y="8" textLength="70" lengthAdjust="spacing">(吉)</text></g>
<g id="K33" transform="translate(0 1035)"><text class="n" x="2724 2793" y="10">吉田</text><text class="s" x="2872" y="8" textLength="70" lengthAdjust="spacing">(草)</text></g>
<g id="K34" transform="translate(0 1066)"><text class="n" x="2724 2793" y="10">佐藤</text><text class="s" x="2872" y="8" textLength="70" lengthAdjust="spacing">(越東)</text></g>
<g id="K35" transform="translate(0 1098)"><text class="n" x="2724 2793" y="10">亀田</text><text class="s" x="2872" y="8" textLength="70" lengthAdjust="spacing">(徳)</text></g>
<g id="K36" transform="translate(0 1129)"><text class="n" x="2752" y="14">堤</text><text class="s" x="2872" y="8" textLength="70" lengthAdjust="spacing">(独)</text><text class="f" x="2910" y="6">つつみ</text></g>
<g id="K37" transform="translate(0 1160)"><text class="n" x="2724 2793" y="10">大塚</text><text class="s" x="2872" y="8" textLength="70" lengthAdjust="spacing">(春東)</text></g>
<g id="K38" transform="translate(0 1191)"><text class="n" x="2724 2793" y="10">田中</text><text class="s" x="2872" y="8" textLength="70" lengthAdjust="spacing">(共)</text></g>
<g id="K39" transform="translate(0 1223)"><text class="n" x="2724 2793" y="10">松永</text><text class="s" x="2872" y="8" textLength="70" lengthAdjust="spacing">(岩)</text></g>
<g id="K40" transform="translate(0 1254)"><text class="n" x="2724 2793" y="10">富沢</text><text class="s" x="2872" y="8" textLength="70" lengthAdjust="spacing">(久工)</text></g>
<g id="K41" transform="translate(0 1285)"><text class="n" x="2717 2787" y="10">濱田</text><text class="s" x="2868" y="8" textLength="70" lengthAdjust="spacing">(崎一)</text><text class="f" x="2906" y="6">はまだ</text></g>
<g id="K42" transform="translate(0 1317)"><text class="n" x="2717 2787" y="10">岩井</text><text class="s" x="2868" y="8" textLength="70" lengthAdjust="spacing">(松)</text></g>
<g id="K43" transform="translate(0 1348)"><text class="n" x="2717 2787" y="10">野中</text><text class="s" x="2868" y="8" textLength="70" lengthAdjust="spacing">(羽一)</text></g>
<g id="K44" transform="translate(0 1379)"><text class="n" x="2717 2787" y="10">平山</text><text class="s" x="2868" y="8" textLength="70" lengthAdjust="spacing">(草東)</text></g>
<g id="K45" transform="translate(0 1410)"><text class="n" x="2717 2787" y="10">大里</text><text class="s" x="2868" y="8" textLength="70" lengthAdjust="spacing">(杉)</text></g>
<g id="K46" transform="translate(0 1442)"><text class="n" x="2717 2787" y="10">菊池</text><text class="s" x="2868" y="8" textLength="70" lengthAdjust="spacing">(越北)</text></g>
<g id="K47" transform="translate(0 1473)"><text class="n" x="2717 2787" y="10">秋野</text><text class="s" x="2868" y="8" textLength="70" lengthAdjust="spacing">(越)</text></g>
<g id="K48" transform="translate(0 1504)"><text class="n" x="2717 2787" y="10">船木</text><text class="s" x="2868" y="8" textLength="70" lengthAdjust="spacing">(八)</text></g>
<g id="K49" transform="translate(0 1535)"><text class="n" x="2717 2787" y="10">小谷</text><text class="s" x="2868" y="8" textLength="70" lengthAdjust="spacing">(宮)</text></g>
<g id="K50" transform="translate(0 1567)"><text class="n" x="2717 2787" y="10">細野</text><text class="s" x="2868" y="8" textLength="70" lengthAdjust="spacing">(越総)</text></g>
<g id="K51" transform="translate(0 1598)"><text class="n" x="2717 2787" y="10">儀満</text><text class="s k" x="2868" y="8" textLength="70" lengthAdjust="spacing">(三北)</text><text class="f" x="2906" y="6">ぎま</text></g>
<g id="K52" transform="translate(0 1629)"><text class="n" x="2717 2787" y="10">川副</text><text class="s" x="2868" y="8" textLength="70" lengthAdjust="spacing">(春)</text><text class="f" x="2906" y="6">かわぞえ</text></g>
<g id="K53" transform="translate(0 1661)"><text class="n" x="2717 2787" y="10">須藤</text><text class="s" x="2868" y="8" textLength="70" lengthAdjust="spacing">(庄)</text></g>
<g id="K54" transform="translate(0 1692)"><text class="n" x="2717 2787" y="10">新井</text><text class="s" x="2868" y="8" textLength="70" lengthAdjust="spacing">(栗)</text></g>
<g id="K55" transform="translate(0 1723)"><text class="n" x="2717 2787" y="10">佐藤</text><text class="s" x="2868" y="8" textLength="70" lengthAdjust="spacing">(北)</text></g>
<g id="K56" transform="translate(0 1754)"><text class="n" x="2717 2787" y="10">高須</text><text class="s" x="2868" y="8" textLength="70" lengthAdjust="spacing">(昌)</text></g>
<g id="K57" transform="translate(0 1786)"><text class="n" x="2712 2743 2778" y="10" style="font-size:24px">海老原</text><text class="s" x="2868" y="8" textLength="70" lengthAdjust="spacing">(白)</text></g>
<g id="K58" transform="translate(0 1817)"><text class="n" x="2717 2787" y="10">樽見</text><text class="s" x="2868" y="8" textLength="70" lengthAdjust="spacing">(春工)</text><text class="f" x="2906" y="6">たるみ</text></g>
</g>
<g id="labels-left" class="e">
<g class="m1"><text x="326" y="92">1</text><text x="326" y="155">2</text><text x="326" y="217">3</text><text x="326" y="280">4</text><text x="326" y="342">5</text><text x="326" y="405">6</text><text x="326" y="498">7</text><text x="326" y="561">8</text><text x="326" y="623">9</text><text x="326" y="686">10</text><text x="326" y="748">11</text><text x="326" y="811">12</text><text x="326" y="873">13</text><text x="326" y="998">14</text><text x="326" y="1060">15</text><text x="326" y="1123">16</text><text x="326" y="1185">17</text><text x="326" y="1248">18</text><text x="326" y="1310">19</text><text x="326" y="1435">20</text><text x="326" y="1498">21</text><text x="326" y="1560">22</text><text x="326" y="1623">23</text><text x="326" y="1685">24</text><text x="326" y="1747">25</text></g>
<g class="m"><text x="401" y="71">104</text><text x="401" y="188">105</text><text x="401" y="313">106</text><text x="401" y="430">107</text><text x="401" y="531">108</text><text x="401" y="656">109</text><text x="401" y="781">110</text><text x="401" y="898">111</text><text x="401" y="976">112</text><text x="401" y="1093">113</text><text x="401" y="1218">114</text><text x="401" y="1335">115</text><text x="401" y="1413">116</text><text x="401" y="1531">117</text><text x="401" y="1656">118</text><text x="401" y="1772">119</text>
<text x="464" y="129">168</text><text x="464" y="371">169</text><text x="464" y="593">170</text><text x="464" y="839">171</text><text x="464" y="1034">172</text><text x="464" y="1276">173</text><text x="464" y="1472">174</text><text x="464" y="1714">175</text>
<text x="533" y="250">200</text><text x="533" y="716">201</text><text x="533" y="1155">202</text><text x="533" y="1593">203</text>
<text x="594" y="483">216</text><text x="594" y="1374">217</text><text x="657" y="936">224</text><text x="1207" y="1905">230</text></g>
</g>
<g id="labels-midleft">
<g class="m1"><text x="1108" y="90">26</text><text x="1108" y="152.5">27</text><text x="1108" y="215">28</text><text x="1108" y="277.5">29</text><text x="1108" y="340.5">30</text><text x="1108" y="402.5">31</text><text x="1108" y="496.5">32</text><text x="1108" y="559.5">33</text><text x="1108" y="621.5">34</text><text x="1108" y="684.5">35</text><text x="1108" y="746.5">36</text><text x="1108" y="809.5">37</text><text x="1108" y="872">38</text><text x="1108" y="997">39</text><text x="1108" y="1059.5">40</text><text x="1108" y="1122.5">41</text><text x="1108" y="1184.5">42</text><text x="1108" y="1247.5">43</text><text x="1108" y="1310">44</text><text x="1108" y="1372.5">45</text><text x="1108" y="1466.5">46</text><text x="1108" y="1528.5">47</text><text x="1108" y="1591.5">48</text><text x="1108" y="1654">49</text><text x="1108" y="1716.5">50</text><text x="1108" y="1779">51</text></g>
<g class="m"><text x="1040" y="68.5">120</text><text x="1040" y="185.75">121</text><text x="1040" y="311">122</text><text x="1040" y="428.25">123</text><text x="1040" y="530">124</text><text x="1040" y="655">125</text><text x="1040" y="780">126</text><text x="1040" y="897.5">127</text><text x="1040" y="975.5">128</text><text x="1040" y="1093">129</text><text x="1040" y="1218">130</text><text x="1040" y="1343.25">131</text><text x="1040" y="1444.75">132</text><text x="1040" y="1562">133</text><text x="1040" y="1687.25">134</text><text x="1040" y="1804.5">135</text>
<text x="974" y="127">176</text><text x="974" y="369.6">177</text><text x="974" y="592.5">178</text><text x="974" y="838.75">179</text><text x="974" y="1034.25">180</text><text x="974" y="1280.6">181</text><text x="974" y="1503.4">182</text><text x="974" y="1745.9">183</text>
<text x="905" y="248.4">204</text><text x="905" y="715.6">205</text><text x="905" y="1157.4">206</text><text x="905" y="1624.7">207</text>
<text x="845" y="482">218</text><text x="845" y="1391">219</text><text x="772" y="948">225</text><text x="684" y="918">228</text></g>
</g>
<g id="labels-midright" class="e">
<g class="m1"><text x="1846" y="90">52</text><text x="1846" y="152.5">53</text><text x="1846" y="215">54</text><text x="1846" y="277.5">55</text><text x="1846" y="340.5">56</text><text x="1846" y="402.5">57</text><text x="1846" y="496.5">58</text><text x="1846" y="559.5">59</text><text x="1846" y="621.5">60</text><text x="1846" y="684.5">61</text><text x="1846" y="746.5">62</text><text x="1846" y="809.5">63</text><text x="1846" y="872">64</text><text x="1846" y="997">65</text><text x="1846" y="1059.5">66</text><text x="1846" y="1122.5">67</text><text x="1846" y="1184.5">68</text><text x="1846" y="1247.5">69</text><text x="1846" y="1310">70</text><text x="1846" y="1372.5">71</text><text x="1846" y="1466.5">72</text><text x="1846" y="1528.5">73</text><text x="1846" y="1591.5">74</text><text x="1846" y="1654">75</text><text x="1846" y="1716.5">76</text><text x="1846" y="1779">77</text></g>
<g class="m"><text x="1921" y="68.5">136</text><text x="1921" y="185.75">137</text><text x="1921" y="311">138</text><text x="1921" y="428.25">139</text><text x="1921" y="530">140</text><text x="1921" y="655">141</text><text x="1921" y="780">142</text><text x="1921" y="897.5">143</text><text x="1921" y="975.5">144</text><text x="1921" y="1093">145</text><text x="1921" y="1218">146</text><text x="1921" y="1343.25">147</text><text x="1921" y="1444.75">148</text><text x="1921" y="1562">149</text><text x="1921" y="1687.25">150</text><text x="1921" y="1804.5">151</text>
<text x="1984" y="127">184</text><text x="1984" y="369.6">185</text><text x="1984" y="592.5">186</text><text x="1984" y="838.75">187</text><text x="1984" y="1034.25">188</text><text x="1984" y="1280.6">189</text><text x="1984" y="1503.4">190</text><text x="1984" y="1745.9">191</text>
<text x="2046" y="248.4">208</text><text x="2046" y="715.6">209</text><text x="2046" y="1157.4">210</text><text x="2046" y="1624.7">211</text>
<text x="2106" y="482">220</text><text x="2106" y="1391">221</text><text x="2161" y="940">226</text></g>
</g>
<g id="labels-right">
<g class="m1"><text x="2597" y="90">78</text><text x="2597" y="152.5">79</text><text x="2597" y="215">80</text><text x="2597" y="277.5">81</text><text x="2597" y="340.5">82</text><text x="2597" y="402.5">83</text><text x="2597" y="496.5">84</text><text x="2597" y="559.5">85</text><text x="2597" y="621.5">86</text><text x="2597" y="684.5">87</text><text x="2597" y="746.5">88</text><text x="2597" y="809.5">89</text><text x="2597" y="872">90</text><text x="2597" y="997">91</text><text x="2597" y="1059.5">92</text><text x="2597" y="1122.5">93</text><text x="2597" y="1184.5">94</text><text x="2597" y="1247.5">95</text><text x="2597" y="1310">96</text><text x="2597" y="1372.5">97</text><text x="2597" y="1466.5">98</text><text x="2597" y="1528.5">99</text><text x="2597" y="1591.5">100</text><text x="2597" y="1654">101</text><text x="2597" y="1716.5">102</text><text x="2597" y="1779">103</text></g>
<g class="m"><text x="2520" y="68.5">152</text><text x="2520" y="185.75">153</text><text x="2520" y="311">154</text><text x="2520" y="428.25">155</text><text x="2520" y="530">156</text><text x="2520" y="655">157</text><text x="2520" y="780">158</text><text x="2520" y="897.5">159</text><text x="2520" y="975.5">160</text><text x="2520" y="1093">161</text><text x="2520" y="1218">162</text><text x="2520" y="1343.25">163</text><text x="2520" y="1444.75">164</text><text x="2520" y="1562">165</text><text x="2520" y="1687.25">166</text><text x="2520" y="1804.5">167</text>
<text x="2485" y="127">192</text><text x="2485" y="369.6">193</text><text x="2485" y="592.5">194</text><text x="2485" y="838.75">195</text><text x="2485" y="1034.25">196</text><text x="2485" y="1280.6">197</text><text x="2485" y="1503.4">198</text><text x="2485" y="1745.9">199</text>
<text x="2413" y="248.4">212</text><text x="2413" y="715.6">213</text><text x="2413" y="1157.4">214</text><text x="2413" y="1624.7">215</text>
<text x="2347" y="482">222</text><text x="2347" y="1391">223</text><text x="2271" y="940">227</text><text x="2190" y="902">229</text></g>
</g>
<g id="marks">
<text class="b" x="1432" y="468" style="font-size:60px">17</text>
<text class="b" x="2916" y="1447" style="font-size:60px">17</text>
<text class="k" x="1546" y="156" style="font-size:46px">キ</text>
<text class="k" x="1540" y="748" style="font-size:42px">キ</text>
<text class="k" x="1380" y="895" style="font-size:46px">キ</text>
</g>
</svg>
